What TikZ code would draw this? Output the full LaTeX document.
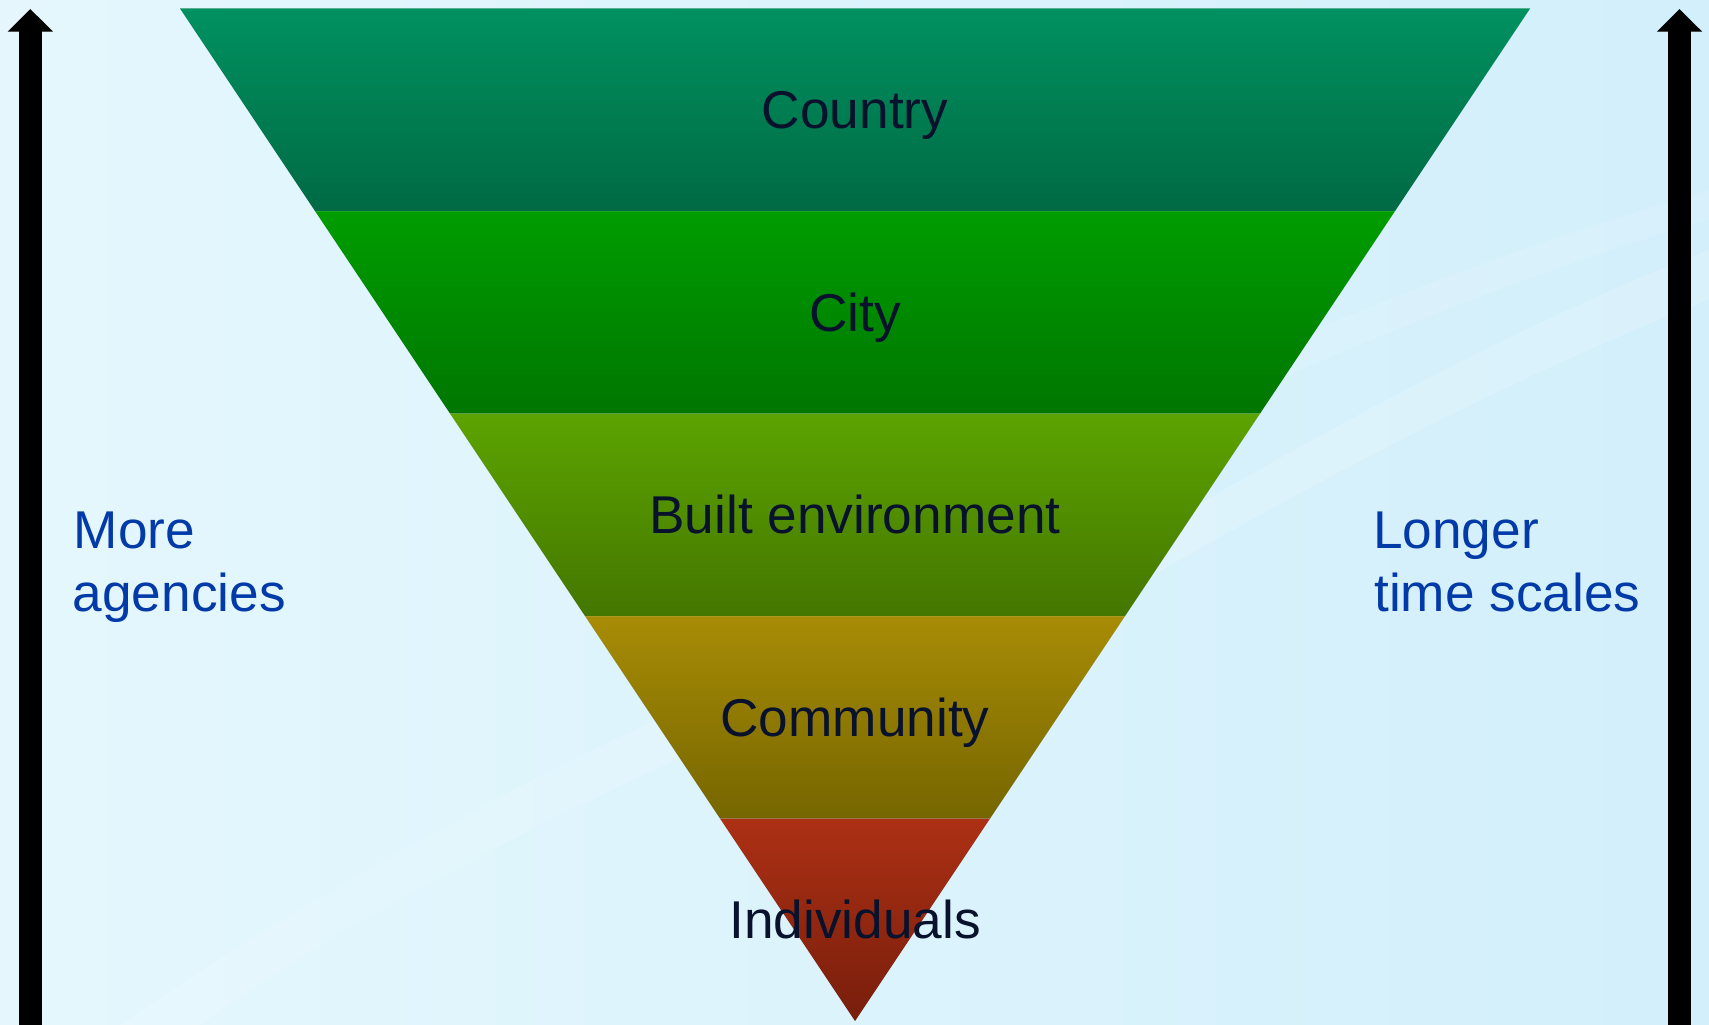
\documentclass[tikz,border=0pt]{standalone}
\usepackage{fontspec}
\setmainfont{Liberation Sans}
\usetikzlibrary{arrows.meta}

\definecolor{bgL}{RGB}{229,247,253}
\definecolor{bgR}{RGB}{210,239,251}
\definecolor{labelblue}{RGB}{2,58,168}
\definecolor{ink}{RGB}{8,18,44}
\definecolor{b1t}{RGB}{0,145,96}
\definecolor{b1b}{RGB}{0,106,68}
\definecolor{b2t}{RGB}{0,157,0}
\definecolor{b2b}{RGB}{0,118,0}
\definecolor{b3t}{RGB}{92,164,0}
\definecolor{b3b}{RGB}{68,118,0}
\definecolor{b4t}{RGB}{168,140,6}
\definecolor{b4b}{RGB}{118,102,0}
\definecolor{b5t}{RGB}{172,48,20}
\definecolor{b5b}{RGB}{120,30,12}

\tikzset{
  bigfont/.style={font=\fontsize{53.2}{63.3}\selectfont},
  levellabel/.style={bigfont, text=ink, inner sep=0pt, anchor=base},
  sidelabel/.style={bigfont, text=labelblue, inner sep=0pt, anchor=base west},
  scalearrow/.style={line width=22.7pt, -{Triangle[width=44pt,length=22.7pt]}},
}

\begin{document}
\begin{tikzpicture}[x=1pt,y=-1pt]
  % canvas and background
  \useasboundingbox (0,0) rectangle (1709,1025);
  \shade[left color=bgL, right color=bgR] (0,0) rectangle (1709,1025);
  % faint light streaks in the background
  \fill[white, opacity=0.16] (1040,600) .. controls (1250,470) and (1500,330) .. (1709,250)
        -- (1709,300) .. controls (1500,380) and (1260,510) .. (1060,630) -- cycle;
  \fill[white, opacity=0.12] (1120,420) .. controls (1300,330) and (1500,250) .. (1709,190)
        -- (1709,220) .. controls (1500,280) and (1320,360) .. (1140,440) -- cycle;
  \fill[white, opacity=0.12] (120,1025) .. controls (300,900) and (520,780) .. (700,700)
        -- (720,740) .. controls (540,820) and (330,930) .. (200,1025) -- cycle;

  % funnel corner points
  \coordinate (L0) at (180,8.5);   \coordinate (R0) at (1530,8.5);
  \coordinate (L1) at (315,211);   \coordinate (R1) at (1395,211);
  \coordinate (L2) at (450,413.5); \coordinate (R2) at (1260,413.5);
  \coordinate (L3) at (585,616);   \coordinate (R3) at (1125,616);
  \coordinate (L4) at (720,818.5); \coordinate (R4) at (990,818.5);
  \coordinate (apex) at (855,1021);

  % soft shadow under the funnel
  \foreach \d/\o in {5/0.05,3.5/0.07,2/0.09}{
    \fill[black, opacity=\o, shift={(\d,\d)}] (L0) -- (R0) -- (apex) -- cycle;
  }

  % funnel bands
  \shade[top color=b1t, bottom color=b1b] (L0) -- (R0) -- (R1) -- (L1) -- cycle;
  \shade[top color=b2t, bottom color=b2b] (L1) -- (R1) -- (R2) -- (L2) -- cycle;
  \shade[top color=b3t, bottom color=b3b] (L2) -- (R2) -- (R3) -- (L3) -- cycle;
  \shade[top color=b4t, bottom color=b4b] (L3) -- (R3) -- (R4) -- (L4) -- cycle;
  \shade[top color=b5t, bottom color=b5b] (L4) -- (R4) -- (apex) -- cycle;
  % thin highlight on top of each band
  \foreach \a/\b in {L0/R0,L1/R1,L2/R2,L3/R3,L4/R4}{
    \draw[white, opacity=0.1, line width=1pt] (\a) -- (\b);
  }

  % level labels
  \node[levellabel] (country)     at (855,128.7) {Country};
  \node[levellabel] (city)        at (855,331.2) {City};
  \node[levellabel] (built)       at (855,533.7) {Built environment};
  \node[levellabel] (community)   at (855,736.2) {Community};
  \node[levellabel] (individuals) at (855,938.7) {Individuals};

  % scale arrows
  \coordinate (lbot) at (30.3,1025);  \coordinate (ltop) at (30.3,9);
  \coordinate (rbot) at (1679.5,1025); \coordinate (rtop) at (1679.5,9);
  \begin{scope}[shift={(3,3)}]
    \draw[scalearrow, black, opacity=0.1] (lbot) -- (ltop);
    \draw[scalearrow, black, opacity=0.1] (rbot) -- (rtop);
  \end{scope}
  \draw[scalearrow, black] (lbot) -- (ltop);
  \draw[scalearrow, black] (rbot) -- (rtop);

  % side labels
  \node[sidelabel] (more1) at (73.5,548.3) {More};
  \node[sidelabel] (more2) at (72.5,611.7) {agencies};
  \node[sidelabel] (long1) at (1373,548.3) {Longer};
  \node[sidelabel] (long2) at (1374,611.7) {time scales};
\end{tikzpicture}
\end{document}
